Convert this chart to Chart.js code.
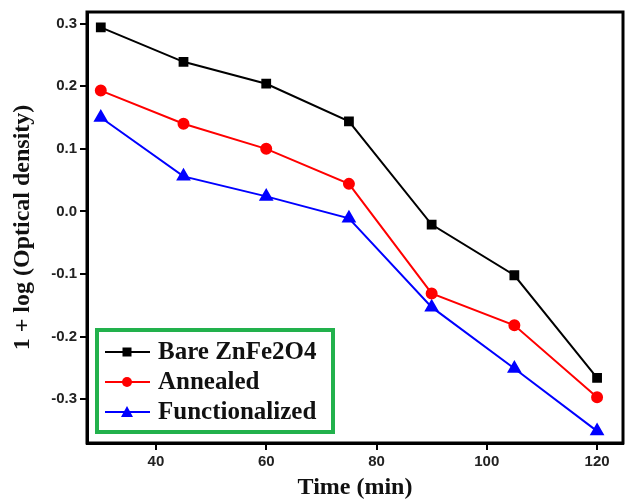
<!DOCTYPE html>
<html>
<head>
<meta charset="utf-8">
<script src="https://cdn.jsdelivr.net/npm/chart.js@4.4.0/dist/chart.umd.min.js"></script>
<style>
  html, body { margin: 0; padding: 0; background: #fff; }
  #wrap { width: 625px; height: 502px; }
</style>
</head>
<body>
<div id="wrap"><canvas id="odChart" width="625" height="502"></canvas></div>
<script>
// data
const times = [30, 45, 60, 75, 90, 105, 120];
const bare = [0.294, 0.239, 0.204, 0.144, -0.021, -0.102, -0.266];
const annealed = [0.193, 0.140, 0.100, 0.044, -0.131, -0.182, -0.297];
const functionalized = [0.150, 0.056, 0.024, -0.011, -0.153, -0.251, -0.351];
const seriesNames = ['Bare ZnFe2O4', 'Annealed', 'Functionalized'];
const xTicks = [40, 60, 80, 100, 120];
const yTicks = [-0.3, -0.2, -0.1, 0.0, 0.1, 0.2, 0.3];

function toPoints(vals) {
    return times.map((t, i) => ({ x: t, y: vals[i] }));
}

// legend drawn inside the plot, lower left, with green frame
const boxLegend = {
    id: 'boxLegend',
    afterDraw(chart) {
        const ctx = chart.ctx;
        const x0 = 97, y0 = 330, w = 236, h = 102;
        ctx.save();
        ctx.fillStyle = '#fff';
        ctx.fillRect(x0, y0, w, h);
        ctx.strokeStyle = '#22b14c';
        ctx.lineWidth = 4;
        ctx.strokeRect(x0, y0, w, h);
        ctx.font = 'bold 25px "Liberation Serif", "Times New Roman", serif';
        ctx.textBaseline = 'middle';
        chart.data.datasets.forEach((ds, i) => {
            const yy = y0 + 22 + i * 30;
            ctx.strokeStyle = ds.borderColor;
            ctx.lineWidth = 2;
            ctx.beginPath();
            ctx.moveTo(x0 + 8, yy);
            ctx.lineTo(x0 + 53, yy);
            ctx.stroke();
            ctx.fillStyle = ds.borderColor;
            const cx = x0 + 30;
            ctx.beginPath();
            if (ds.pointStyle === 'rect') {
                ctx.fillRect(cx - 4.5, yy - 4.5, 9, 9);
            } else if (ds.pointStyle === 'circle') {
                ctx.arc(cx, yy, 5, 0, Math.PI * 2);
                ctx.fill();
            } else {
                ctx.moveTo(cx, yy - 6);
                ctx.lineTo(cx + 6, yy + 5);
                ctx.lineTo(cx - 6, yy + 5);
                ctx.closePath();
                ctx.fill();
            }
            ctx.fillStyle = '#111';
            ctx.fillText(ds.label, x0 + 61, yy + 1);
        });
        ctx.restore();
    }
};

// heavy black frame round the plot area
const frame = {
    id: 'frame',
    afterDraw(chart) {
        const a = chart.chartArea;
        const ctx = chart.ctx;
        ctx.save();
        ctx.strokeStyle = '#000';
        ctx.lineWidth = 3;
        ctx.strokeRect(a.left, a.top, a.right - a.left, a.bottom - a.top);
        ctx.restore();
    }
};

const ctx = document.getElementById('odChart').getContext('2d');
new Chart(ctx, {
    type: 'line',
    data: {
        datasets: [
            {
                label: seriesNames[0],
                data: toPoints(bare),
                borderColor: '#000000',
                backgroundColor: '#000000',
                pointStyle: 'rect',
                pointRadius: 5.5,
                borderWidth: 2
            },
            {
                label: seriesNames[1],
                data: toPoints(annealed),
                borderColor: '#ff0000',
                backgroundColor: '#ff0000',
                pointStyle: 'circle',
                pointRadius: 5,
                borderWidth: 2
            },
            {
                label: seriesNames[2],
                data: toPoints(functionalized),
                borderColor: '#0000ff',
                backgroundColor: '#0000ff',
                pointStyle: 'triangle',
                pointRadius: 6.5,
                borderWidth: 2
            }
        ]
    },
    options: {
        responsive: false,
        animation: false,
        layout: { autoPadding: false, padding: { top: 10, right: 2, left: 0, bottom: 0 } },
        plugins: {
            legend: { display: false },
            tooltip: { enabled: false }
        },
        scales: {
            x: {
                type: 'linear',
                min: 27.5,
                max: 124.7,
                afterBuildTicks: s => { s.ticks = xTicks.map(v => ({ value: v })); },
                afterFit: s => { s.height = 59; s.paddingLeft = 0; s.paddingRight = 0; },
                grid: { display: true, drawOnChartArea: false, drawTicks: true, tickLength: 7, color: '#000', lineWidth: 2 },
                border: { display: true, color: '#000', width: 3 },
                ticks: {
                    color: '#222',
                    padding: 3,
                    font: { family: '"Liberation Sans", Arial, sans-serif', size: 15, weight: 'bold' }
                },
                title: {
                    display: true,
                    text: 'Time (min)',
                    color: '#111',
                    padding: { top: 2, bottom: 0 },
                    font: { family: '"Liberation Serif", "Times New Roman", serif', size: 24, weight: 'bold' }
                }
            },
            y: {
                min: -0.370,
                max: 0.3186,
                afterBuildTicks: s => { s.ticks = yTicks.map(v => ({ value: v })); },
                afterFit: s => { s.width = 87; },
                grid: { display: true, drawOnChartArea: false, drawTicks: true, tickLength: 7, color: '#000', lineWidth: 2 },
                border: { display: true, color: '#000', width: 3 },
                ticks: {
                    color: '#222',
                    padding: 3,
                    callback: v => (Math.abs(v) < 1e-9 ? '0.0' : v.toFixed(1)),
                    font: { family: '"Liberation Sans", Arial, sans-serif', size: 15, weight: 'bold' }
                },
                title: {
                    display: true,
                    text: '1 + log (Optical density)',
                    color: '#111',
                    padding: { top: 8, bottom: 0 },
                    font: { family: '"Liberation Serif", "Times New Roman", serif', size: 24, weight: 'bold' }
                }
            }
        }
    },
    plugins: [frame, boxLegend]
});
</script>
</body>
</html>
